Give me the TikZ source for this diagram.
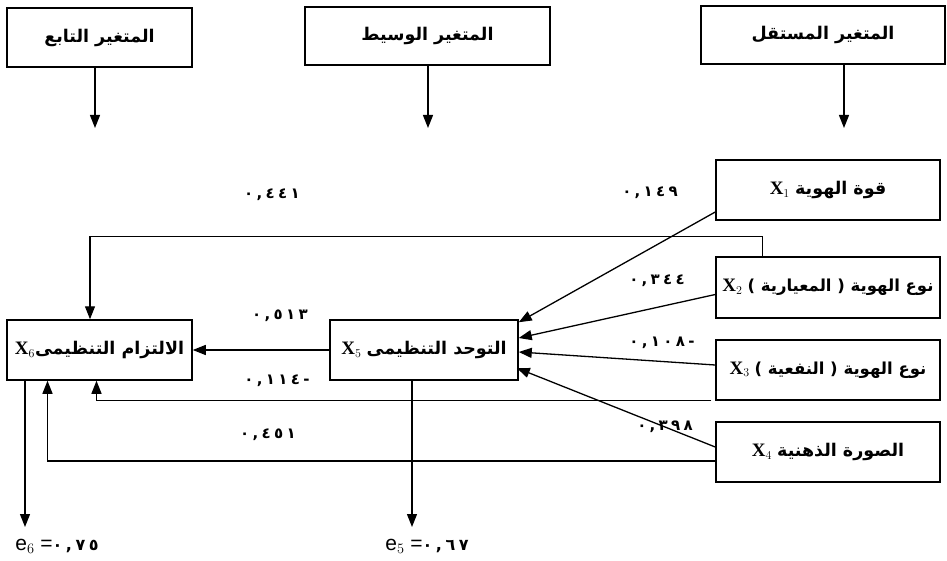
\documentclass[tikz,border=0pt]{standalone}
\usepackage{fontspec}
\usetikzlibrary{arrows.meta,calc}
\TeXXeTstate=1
\newfontfamily\arabicfont[Script=Arabic]{DejaVu Sans}
\newfontfamily\numfont[LetterSpace=22]{DejaVu Sans}
\newfontfamily\latinfont{Liberation Serif}
\newfontfamily\efont{Liberation Sans}
\newcommand{\artxt}[1]{{\arabicfont\bfseries\beginR #1\endR}}
\newcommand{\coefnum}[1]{{\numfont\bfseries\beginL #1\endL}}
\newcommand{\xv}[1]{{\fontsize{19}{21}\selectfont\latinfont\bfseries X}$_{#1}$}

\tikzset{
  varbox/.style={draw, line width=1.5pt, minimum width=185pt, minimum height=60pt,
    inner sep=2pt, font=\fontsize{17.5}{20}\selectfont},
  narrow/.style={font=\fontsize{16.5}{19}\selectfont, inner xsep=0pt},
  coef/.style={font=\fontsize{15}{17}\selectfont},
  err/.style={font=\fontsize{21}{23}\selectfont, anchor=center},
  arr/.style={-{Triangle[length=13pt,width=10pt]}, line width=1.3pt},
}

\begin{document}
\begin{tikzpicture}[x=1pt, y=-1pt]
  \useasboundingbox (0,0) rectangle (947,561);

  % Headings
  \node[varbox, minimum height=59pt] (dep) at (99.5,37.5) {\artxt{المتغير التابع}};
  \node[varbox, minimum width=245pt, minimum height=58pt] (med) at (427.5,36) {\artxt{المتغير الوسيط}};
  \node[varbox, minimum width=244pt, minimum height=58pt] (ind) at (823,35) {\artxt{المتغير المستقل}};

  \coordinate (depT) at (95,128);
  \coordinate (medT) at (428,128);
  \coordinate (indT) at (844,128);
  \draw[arr] (dep.south -| depT) -- (depT);
  \draw[arr] (med.south -| medT) -- (medT);
  \draw[arr] (ind.south -| indT) -- (indT);

  % Independent variables
  \node[varbox, minimum width=224pt] (x1) at (828,190) {\xv{1} \artxt{قوة الهوية}};
  \node[varbox, narrow, minimum width=224pt, minimum height=61pt] (x2) at (828,287.5) {\xv{2} \artxt{نوع الهوية ( المعيارية )}};
  \node[varbox, narrow, minimum width=224pt] (x3) at (828,370) {\xv{3} \artxt{نوع الهوية ( النفعية )}};
  \node[varbox, minimum width=224pt] (x4) at (828,452) {\xv{4} \artxt{الصورة الذهنية}};

  % Mediator and dependent
  \node[varbox, minimum width=188pt] (x5) at (424,350) {\xv{5} \artxt{التوحد التنظيمى}};
  \node[varbox] (x6) at (99.5,350) {\xv{6}\artxt{الالتزام التنظيمى}};

  % Paths to the mediator
  \draw[arr] ($(x1.west)+(0,22)$) -- ($(x5.north east)+(0,3)$);
  \draw[arr] ($(x2.west)+(0,7)$) -- ($(x5.east)+(0,-12)$);
  \draw[arr] ($(x3.west)+(0,-5)$) -- ($(x5.east)+(0,2)$);
  \draw[arr] ($(x4.west)+(0,-5)$) -- ($(x5.east)+(-2,18)$);

  % Paths to the dependent
  \draw[arr] (x5.west) -- (x6.east);
  \draw[arr] ($(x2.north west)+(47,0)$) |- ($(x6.north)+(-9.5,-83)$) -- ($(x6.north)+(-9.5,0)$);
  \draw[arr] ($(x3.south west)+(-4,0)$) -| ($(x6.south)+(-3,0)$);
  \draw[arr] ($(x4.west)+(0,9)$) -| ($(x6.south)+(-52,0)$);

  % Errors
  \node[err] (e6) at (57,546) {{\efont e$_6$ =}\coefnum{\fontsize{16}{18}\selectfont ٠,٧٥}};
  \node[err] (e5) at (427,546) {{\efont e$_5$ =}\coefnum{\fontsize{16}{18}\selectfont ٠,٦٧}};
  \coordinate (e6T) at (25,527);
  \coordinate (e5T) at (412,527);
  \draw[arr] (x6.south -| e6T) -- (e6T);
  \draw[arr] (x5.south -| e5T) -- (e5T);

  % Coefficients
  \node[coef] (c1) at (650,193) {\coefnum{٠,١٤٩}};
  \node[coef] (c2) at (657,281) {\coefnum{٠,٣٤٤}};
  \node[coef] (c3) at (662,343) {\coefnum{٠,١٠٨-}};
  \node[coef] (c4) at (665,427) {\coefnum{٠,٣٩٨}};
  \node[coef] (c5) at (272,195) {\coefnum{٠,٤٤١}};
  \node[coef] (c6) at (280,316) {\coefnum{٠,٥١٣}};
  \node[coef] (c7) at (277,381) {\coefnum{٠,١١٤-}};
  \node[coef] (c8) at (268,435) {\coefnum{٠,٤٥١}};
\end{tikzpicture}
\end{document}
